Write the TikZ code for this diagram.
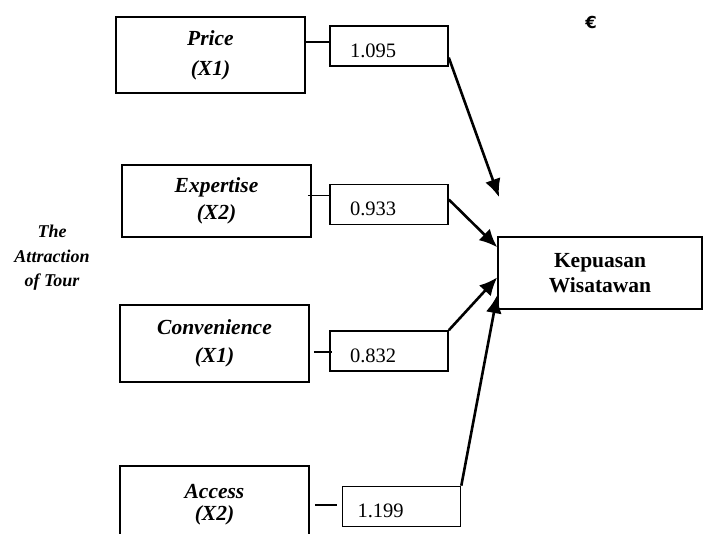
\documentclass[tikz,border=0pt]{standalone}
\usepackage{fontspec}
\setmainfont{Liberation Serif}
\newfontfamily\eurofont{DejaVu Sans}
\usetikzlibrary{arrows.meta,calc}

\begin{document}
\begin{tikzpicture}[x=1pt,y=-1pt]
    \tikzstyle{factor}=[draw=black, line width=1.6pt, minimum width=189pt, inner sep=0pt, align=center, font=\fontsize{21.5}{24}\selectfont\bfseries\itshape]
    \tikzstyle{coef}=[draw=black, line width=1.6pt, minimum width=118pt, minimum height=40pt, inner ysep=0pt, inner xsep=20pt, text width=78pt, align=left, text height=22pt, text depth=0pt, font=\fontsize{20.5}{24}\selectfont]
    \tikzstyle{link}=[black, line width=1.6pt]
    \tikzstyle{effect}=[black, line width=2.6pt, -{Latex[length=18pt,width=16pt]}]

    \useasboundingbox (0,0) rectangle (707,533);
    \clip (0,0) rectangle (707,533);

    \node[factor, minimum height=76pt] (price) at (210.5,55) {Price\\[6pt](X1)};
    \node[factor, minimum height=72pt] (expertise) at (216.5,201) {Expertise\\[3pt](X2)};
    \node[factor, minimum height=77pt] (convenience) at (214.5,343.5) {Convenience\\[4pt](X1)};
    \node[factor, minimum height=77pt, text depth=5pt] (access) at (214.5,504.5) {Access\\[-2pt](X2)};

    \node[coef] (v1) at (389,46) {1.095};
    \node[coef] (v2) at (389,204.5) {0.933};
    \node[coef] (v3) at (389,351) {0.832};
    \node[coef, inner xsep=15pt, text width=88pt] (v4) at (401.5,506.5) {1.199};

    \node[draw=black, line width=1.6pt, minimum width=204pt, minimum height=72pt, align=center, font=\fontsize{21.5}{25}\selectfont\bfseries] (kepuasan) at (600,273) {Kepuasan\\Wisatawan};

    \node[align=center, font=\fontsize{18}{24.5}\selectfont\bfseries\itshape] (attraction) at (52,258) {The\\Attraction\\of Tour};
    \node[font=\eurofont\fontsize{16.5}{18}\selectfont\bfseries] (euro) at (591,22) {€};

    % factor to coefficient
    \coordinate (v1in) at ($(v1.north west)!0.4!(v1.south west)$);
    \coordinate (v2in) at ($(v2.north west)!0.28!(v2.south west)$);
    \coordinate (v3in) at ($(v3.north west)!0.52!(v3.south west)$);
    \coordinate (v4in) at ($(v4.north west)!0.46!(v4.south west)$);
    \draw[link] (price.east |- v1in) -- (v1in);
    \draw[link] ($(expertise.east |- v2in)+(-4,0)$) -- (v2in);
    \draw[link] ($(convenience.east |- v3in)+(4,0)$) -- ($(v3in)+(3,0)$);
    \draw[link] ($(access.east |- v4in)+(5,0)$) -- ($(v4in)+(-5,0)$);

    % coefficient to kepuasan
    \coordinate (tip) at (499,197);
    \draw[effect] ($(v1.north east)!0.78!(v1.south east)$) -- (tip);
    \draw[effect] ($(v2.north east)!0.38!(v2.south east)$) -- ($(kepuasan.north west)!0.15!(kepuasan.south west)$);
    \draw[effect] (v3.north east) -- ($(kepuasan.north west)!0.56!(kepuasan.south west)$);
    \draw[effect] (v4.north east) -- ($(kepuasan.north west)!0.8!(kepuasan.south west)$);
\end{tikzpicture}
\end{document}
